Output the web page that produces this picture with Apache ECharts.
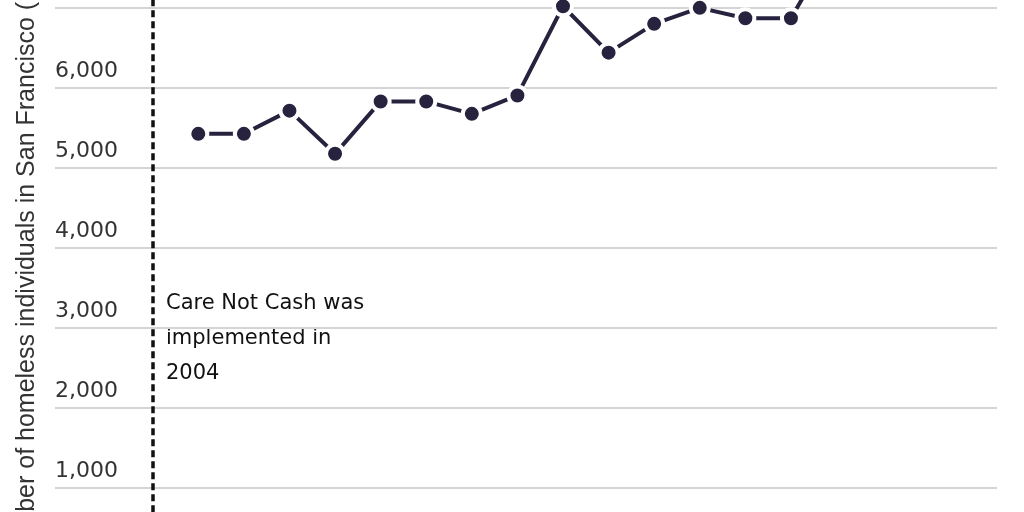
<!DOCTYPE html>
<html>
<head>
<meta charset="utf-8">
<script src="https://cdn.jsdelivr.net/npm/echarts@6/dist/echarts.min.js"></script>
<style>
html,body{margin:0;padding:0;background:#fff;overflow:hidden;width:1024px;height:512px}
#c{position:absolute;left:0;top:-150px;width:1024px;height:800px}
</style>
</head>
<body>
<div id="c"></div>
<script>
const years = [2005, 2006, 2007, 2008, 2009, 2010, 2011, 2012, 2013, 2014, 2015, 2016, 2017, 2018, 2019, 2020, 2021, 2022];
const homeless = [5420, 5420, 5710, 5170, 5825, 5825, 5670, 5900, 7015, 6435, 6795, 6995, 6865, 6865, 7850, 8000, 8100, 7750];
const policyYear = 2004;
const yTicks = [0, 1000, 2000, 3000, 4000, 5000, 6000, 7000, 8000];
const annotation = ['Care Not Cash was', 'implemented in', '2004'];
const yTitle = 'Number of homeless individuals in San Francisco (PIT count)';

const chart = echarts.init(document.getElementById('c'), null, {renderer: 'canvas'});
chart.setOption({
  animation: false,
  backgroundColor: '#fff',
  grid: {left: 55, right: 27, top: 33.9, bottom: 82.7, containLabel: false},
  xAxis: {
    type: 'value', min: 2001.857, max: 2022.52,
    axisLine: {show: false}, axisTick: {show: false}, axisLabel: {show: false}, splitLine: {show: false}
  },
  yAxis: {
    type: 'value', min: 0, max: 8545, interval: 1000,
    name: yTitle, nameLocation: 'middle', nameGap: 15,
    nameTextStyle: {fontFamily: 'Liberation Sans', fontSize: 25, color: '#333'},
    axisLine: {show: false}, axisTick: {show: false},
    axisLabel: {
      inside: true, margin: 0, align: 'left', verticalAlign: 'bottom',
      padding: [0, 0, 5, 0],
      fontFamily: 'DejaVu Sans', fontSize: 22, color: '#333',
      formatter: v => yTicks.includes(v) ? v.toLocaleString('en-US') : ''
    },
    splitLine: {show: true, lineStyle: {color: '#d4d4d4', width: 2}}
  },
  series: [{
    type: 'line',
    data: years.map((y, i) => [y, homeless[i]]),
    symbol: 'circle', symbolSize: 18,
    lineStyle: {color: '#27233f', width: 4},
    itemStyle: {color: '#27233f', borderColor: '#fff', borderWidth: 4},
    z: 3,
    markLine: {
      silent: true, symbol: ['none', 'none'],
      label: {show: false},
      lineStyle: {type: [7, 4], width: 3.5, color: '#111'},
      data: [{xAxis: policyYear}]
    }
  }],
  graphic: [{
    type: 'text', left: 166, top: 436,
    style: {text: annotation.join('\n'), fontFamily: 'DejaVu Sans', fontSize: 21, lineHeight: 35, fill: '#111'}
  }]
});
</script>
</body>
</html>
